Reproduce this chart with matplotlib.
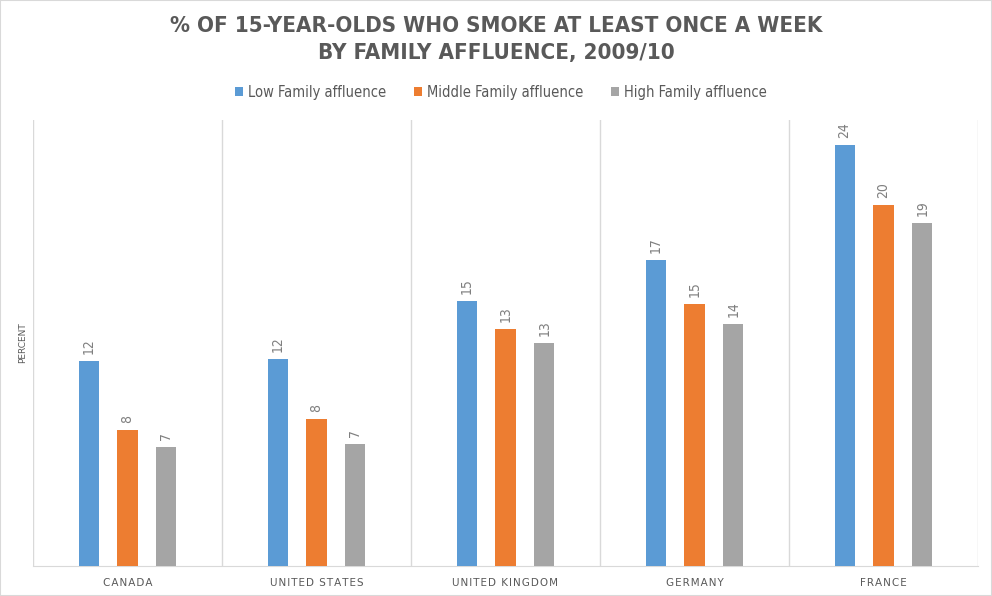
import numpy as np
import matplotlib.pyplot as plt
from matplotlib.patches import Rectangle

# Data
countries = ["CANADA", "UNITED STATES", "UNITED KINGDOM", "GERMANY", "FRANCE"]
series_names = ["Low Family affluence", "Middle Family affluence", "High Family affluence"]
low = [11.6, 11.7, 15.0, 17.3, 23.8]
middle = [7.7, 8.3, 13.4, 14.8, 20.4]
high = [6.7, 6.9, 12.6, 13.7, 19.4]

colors = ["#5B9BD5", "#ED7D31", "#A5A5A5"]
text_col = "#595959"

fig = plt.figure(figsize=(9.92, 5.96), dpi=100)
ax = fig.add_axes([33 / 992, 1 - 566 / 596, 945 / 992, 446 / 596])

x = np.arange(len(countries))
offset = 0.206
width = 0.106
for k, vals in enumerate([low, middle, high]):
    xs = x + (k - 1) * offset
    ax.bar(xs, vals, width=width, color=colors[k], label=series_names[k], zorder=3)
    for xi, v in zip(xs, vals):
        ax.annotate("%.0f" % v, (xi, v), xytext=(0, 5), textcoords="offset points",
                    rotation=90, ha="center", va="bottom", fontsize=10, color="#7F7F7F",
                    fontstretch="condensed")

ax.set_xlim(-0.5, len(countries) - 0.5)
ax.set_ylim(0, 25.2)
ax.set_yticks([])
ax.set_xticks(x)
# spread the letters a little, like the original
ax.set_xticklabels(["\u200a".join(c) for c in countries], fontsize=7.5, color=text_col)
ax.tick_params(axis="x", length=0, pad=9)
for b in np.arange(-0.5, len(countries), 1.0):
    ax.axvline(b, color="#D9D9D9", lw=1, zorder=1)
for s in ["top", "right", "left"]:
    ax.spines[s].set_visible(False)
ax.spines["bottom"].set_color("#D9D9D9")
ax.set_ylabel("PERCENT", fontsize=6.5, color=text_col, labelpad=4)

title_kw = dict(ha="center", va="center", fontsize=16, fontweight="bold", color=text_col,
                fontstretch="condensed")
fig.text(0.5, 1 - 26 / 596, "% OF 15-YEAR-OLDS WHO SMOKE AT LEAST ONCE A WEEK", **title_kw)
fig.text(0.5, 1 - 53 / 596, "BY FAMILY AFFLUENCE, 2009/10", **title_kw)

leg = fig.legend(loc="center", bbox_to_anchor=(0.5 + 5 / 992, 1 - 92 / 596), ncol=3,
                 frameon=False, prop={"size": 10.5, "stretch": "condensed"},
                 handlelength=0.55, handleheight=0.55, columnspacing=1.9,
                 handletextpad=0.35)
for t in leg.get_texts():
    t.set_color(text_col)

fig.patches.append(Rectangle((0, 0), 1, 1, transform=fig.transFigure, fill=False,
                             edgecolor="#D9D9D9", lw=1.5))

fig.savefig("out.png", dpi=100)
